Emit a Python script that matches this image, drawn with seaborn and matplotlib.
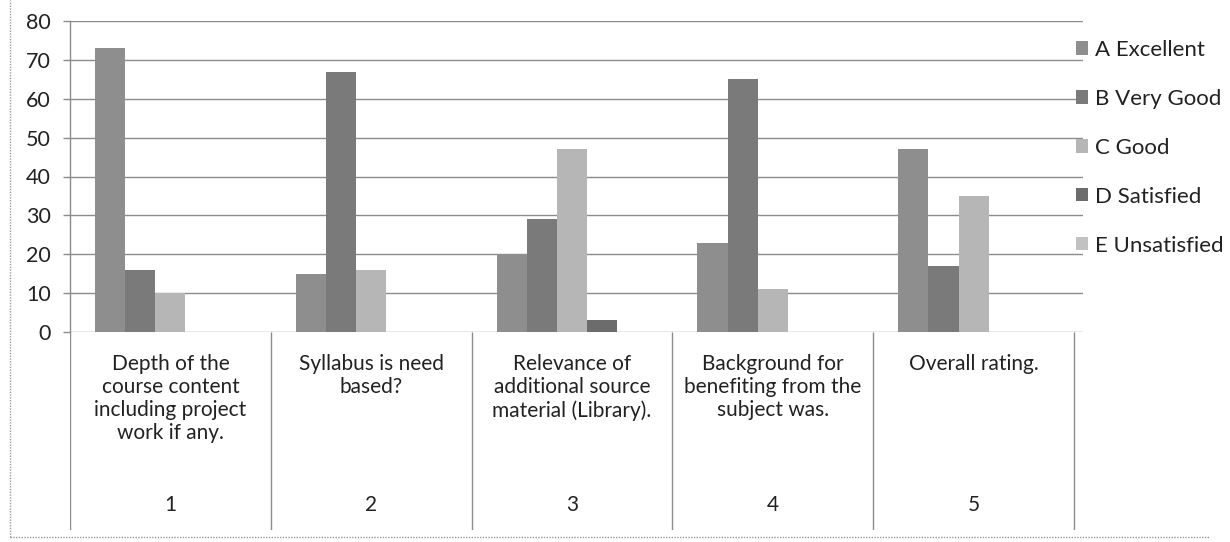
import pandas as pd
import matplotlib
matplotlib.use("Agg")
import matplotlib.pyplot as plt
from matplotlib.patches import Patch
from matplotlib.lines import Line2D
import seaborn as sns

# survey questions (category boxes under the axis) and their numbers
questions = [
    "Depth of the\ncourse content\nincluding project\nwork if any.",
    "Syllabus is need\nbased?",
    "Relevance of\nadditional source\nmaterial (Library).",
    "Background for\nbenefiting from the\nsubject was.",
    "Overall rating.",
]
question_nos = ["1", "2", "3", "4", "5"]

ratings = ["A Excellent", "B Very Good", "C Good", "D Satisfied", "E Unsatisfied"]
excellent = [73, 15, 20, 23, 47]
very_good = [16, 67, 29, 65, 17]
good = [10, 16, 47, 11, 35]
satisfied = [0, 0, 3, 0, 0]
unsatisfied = [0, 0, 0, 0, 0]

y_ticks = [0, 10, 20, 30, 40, 50, 60, 70, 80]

colors = ["#8e8e8e", "#7a7a7a", "#b6b6b6", "#6c6c6c", "#c2c2c2"]
grid_color = "#8c8c8c"
text_color = "#222222"

series = [excellent, very_good, good, satisfied, unsatisfied]
rows = []
for rating, values in zip(ratings, series):
    for no, v in zip(question_nos, values):
        rows.append({"no": no, "rating": rating, "value": v})
df = pd.DataFrame(rows)

sns.set_theme(style="white")
plt.rcParams["font.family"] = ["Lato", "DejaVu Sans"]

W, H = 1230, 542
fig = plt.figure(figsize=(W / 100, H / 100), dpi=100)

# main bar area: x from 70px to 1083px, y from 21px (80) to 332px (0)
ax = fig.add_axes([70 / W, 1 - 332 / H, (1083 - 70) / W, (332 - 21) / H])
sns.barplot(data=df, x="no", y="value", hue="rating", order=question_nos,
            hue_order=ratings, palette=colors, width=0.75, gap=0,
            linewidth=0, saturation=1, ax=ax)
ax.get_legend().remove()
ax.set_xlim(-0.5, 4.545)
ax.set_ylim(0, 80)
ax.set_yticks(y_ticks)
ax.set_yticklabels([str(t) for t in y_ticks], fontsize=15.5, color=text_color)
ax.set_xticks([])
ax.set_xlabel("")
ax.set_ylabel("")
ax.yaxis.grid(True, color=grid_color, linewidth=1)
ax.set_axisbelow(True)
ax.tick_params(axis="y", length=5, width=1, color=grid_color, pad=9, left=True)
for side in ["top", "right", "bottom"]:
    ax.spines[side].set_visible(False)
ax.spines["left"].set_color(grid_color)
ax.spines["left"].set_linewidth(1)

# category table below the axis
tab = fig.add_axes([70 / W, 1 - 530 / H, (1083 - 70) / W, (530 - 332) / H])
tab.set_xlim(-0.5, 4.545)
tab.set_ylim(0, 1)
tab.axis("off")
tab.vlines([i - 0.5 for i in range(len(questions) + 1)], 0, 1,
           color=grid_color, linewidth=1)
for i, (q, no) in enumerate(zip(questions, question_nos)):
    tab.text(i, 0.89, q, ha="center", va="top", fontsize=15,
             color=text_color, linespacing=1.2)
    tab.text(i, 0.125, no, ha="center", va="center", fontsize=15,
             color=text_color)

# legend on the right
handles = [Patch(facecolor=c, edgecolor="none") for c in colors]
fig.legend(handles, ratings, loc="upper left",
           bbox_to_anchor=(1076 / W, 1 - 40 / H), frameon=False,
           fontsize=16, handlelength=0.55, handleheight=0.55,
           handletextpad=0.3, labelspacing=1.3, borderpad=0,
           borderaxespad=0, labelcolor=text_color)

# outer chart border (left and bottom visible in the scan)
fig.add_artist(Line2D([10 / W, 10 / W], [1 - 537 / H, 1.0],
                      transform=fig.transFigure, color="#9a9a9a",
                      linewidth=1, linestyle=(0, (1, 1))))
fig.add_artist(Line2D([10 / W, 1210 / W], [1 - 537 / H, 1 - 537 / H],
                      transform=fig.transFigure, color="#9a9a9a",
                      linewidth=1, linestyle=(0, (1, 1))))

fig.savefig("out.png", dpi=100, facecolor="white")
